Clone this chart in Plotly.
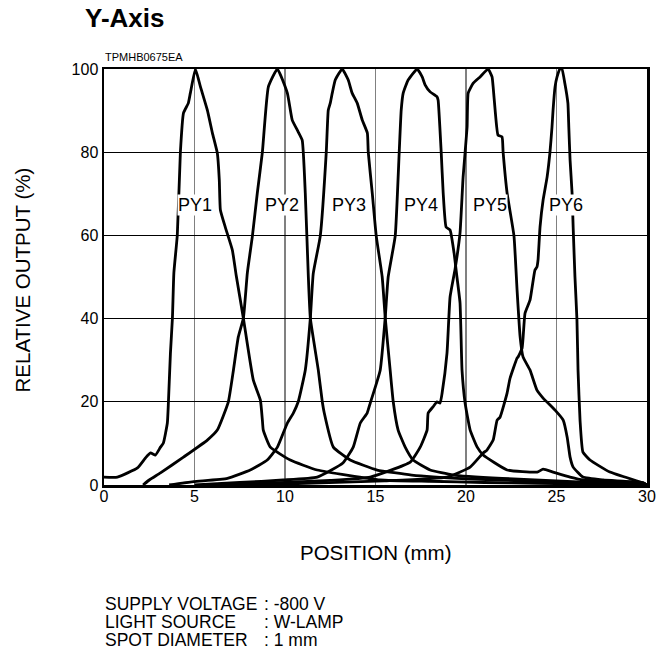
import plotly.graph_objects as go

# ---------------- data ----------------
py1_x = [0, 0.74, 1.85, 2.29, 2.57, 2.84, 3.12, 3.28, 3.5, 3.56, 3.67, 3.78, 3.86, 4.05, 4.22, 4.39, 4.66, 4.77, 5.05, 5.33,
         5.71, 5.99, 6.26, 6.37, 6.43, 6.7, 7.09, 7.3, 7.7, 8.25, 8.64, 8.75, 8.8, 9.19, 10.29, 11.78, 15.26, 18, 21, 24, 27, 30]
py1_y = [1.9, 1.9, 4.1, 6.5, 7.7, 7.2, 9.1, 10.1, 14.9, 20, 31.7, 40.1, 51, 60.1, 80, 89.4, 91.8, 94.2, 100, 95.7,
         90.1, 84.6, 79.8, 73.3, 66.1, 62, 56.5, 50.5, 40.1, 25.2, 20.4, 15.6, 13.2, 9.1, 6.0, 3.6, 1.2, 0.9, 0.6, 0.4, 0.2, 0]

py2_x = [2.16, 2.5, 3.12, 4.39, 5.71, 6.26, 6.87, 7.15, 7.42, 7.7, 7.92, 8.2, 8.47, 8.75, 9.08, 9.58, 10.13, 10.4, 10.68, 10.95,
         11.12, 11.29, 11.4, 11.84, 12.06, 12.17, 12.67, 13.6, 15.09, 17, 20, 23, 26, 30]
py2_y = [0, 1.2, 2.9, 6.7, 10.8, 13.2, 20, 27.6, 35.6, 40.1, 51, 59.9, 70.2, 80, 95.7, 100, 94.2, 87.7, 85.3, 82.9,
         70.2, 50, 40.1, 27.6, 20, 17.3, 9.1, 6.0, 3.6, 2.4, 1.5, 1.0, 0.5, 0]

py3_x = [3.6, 4.94, 6.82, 8.08, 9.02, 9.58, 10.13, 10.46, 10.73, 11.12, 11.4, 11.56, 11.95, 12.28, 12.39, 12.5, 12.61, 12.78, 13.16, 13.49,
         13.71, 13.99, 14.27, 14.55, 14.6, 14.82, 15.04, 15.37, 15.54, 15.81, 15.98, 16.25, 16.64, 17.08, 18.02, 19.29, 22, 25, 28, 30]
py3_y = [0, 0.8, 1.6, 3.6, 6.0, 9.1, 14.9, 17.3, 20, 27.6, 40.1, 50.8, 59.9, 80, 90.1, 91.8, 94.2, 97.4, 100, 97.4,
         94.2, 91.8, 87.7, 84.6, 80, 70.2, 59.9, 50, 40.1, 27.6, 20, 13.2, 9.1, 6.0, 3.6, 2.4, 1.6, 1.0, 0.4, 0]

py4_x = [5.0, 7.5, 9.9, 11.78, 13.2, 13.77, 14.16, 14.54, 14.71, 15.26, 15.54, 15.7, 16.09, 16.31, 16.42, 16.53, 16.81, 17.3, 17.58, 17.74,
         18.02, 18.4, 18.46, 18.63, 18.74, 18.9, 19.12, 19.34, 19.5, 19.67, 19.78, 19.95, 20.23, 20.62, 20.95, 22.27, 23.93, 24.26, 24.81, 25.75,
         26.46, 29.77, 30]
py4_y = [0, 0.6, 1.2, 1.9, 5.3, 9.1, 14.9, 17.3, 19.7, 27.6, 40.4, 50, 59.9, 80, 90.1, 94.2, 97.4, 100, 98.1, 96.2,
         94.5, 93.3, 92.5, 80, 70.2, 62, 61.3, 55.8, 50, 43.8, 27.6, 19.7, 13.2, 9.1, 7.2, 3.6, 3.1, 3.8, 3.1, 1.9,
         1.2, 0.5, 0]

py5_x = [6, 10, 12.5, 14.71, 16.92, 17.47, 17.85, 17.91, 18.18, 18.4, 18.57, 18.68, 18.95, 19.12, 19.4, 19.67, 19.84, 20.06, 20.12, 20.4,
         20.78, 21.22, 21.44, 21.5, 21.61, 21.77, 21.99, 22.05, 22.27, 22.65, 22.82, 22.99, 23.15, 23.54, 23.92, 24.26, 24.92, 25.37, 25.59, 25.75,
         25.92, 26.46, 27.57, 29.77, 30]
py5_y = [0, 0.6, 1.1, 1.9, 5.5, 9.1, 13.2, 17.3, 18.8, 20, 19.7, 22.1, 31.7, 45.2, 52, 60.6, 74, 86, 94.2, 96.6,
         98.1, 100, 98.1, 95.7, 90.1, 84.1, 83.7, 80, 70.2, 59.9, 47, 35.6, 30.8, 27.6, 22.8, 20.9, 18, 15.6, 11.5, 6.7,
         4.3, 1.9, 1.2, 0.5, 0]

py6_x = [8, 12, 15.5, 18.95, 20.23, 20.95, 21.16, 21.5, 21.72, 21.88, 22.27, 22.43, 22.82, 22.88, 23.1, 23.26, 23.54, 23.81, 23.92, 23.98,
         24.09, 24.26, 24.48, 24.64, 24.75, 24.81, 24.92, 25.03, 25.19, 25.3, 25.46, 25.63, 25.68, 25.75, 25.86, 25.92, 26.02, 26.13, 26.19, 26.3,
         26.46, 26.85, 27.95, 29.77, 30]
py6_y = [0, 0.5, 1.0, 1.9, 4.3, 7.7, 8.4, 10.8, 15.6, 16.3, 22.1, 25.6, 30.5, 30.8, 32.9, 41.3, 44.5, 51.7, 52.4, 54.1,
         62, 68.5, 74, 80, 86, 90.1, 95.7, 98.1, 100, 100, 96.6, 91.8, 86, 78.1, 70.2, 62, 50, 39.7, 27.6, 15.6,
         7.9, 6.0, 3.1, 0.5, 0]

series_names = ["PY1", "PY2", "PY3", "PY4", "PY5", "PY6"]
series_x = [py1_x, py2_x, py3_x, py4_x, py5_x, py6_x]
series_y = [py1_y, py2_y, py3_y, py4_y, py5_y, py6_y]
label_x = [5.0, 9.85, 13.55, 17.5, 21.3, 25.55]
label_y = [67.3, 67.3, 67.3, 67.3, 67.3, 67.3]

x_ticks = [0, 5, 10, 15, 20, 25, 30]
y_ticks = [0, 20, 40, 60, 80, 100]

notes_left = ["SUPPLY VOLTAGE", "LIGHT SOURCE", "SPOT DIAMETER"]
notes_right = [": -800 V", ": W-LAMP", ": 1 mm"]

FONT = "Liberation Sans, Arial, Helvetica, sans-serif"

# ---------------- figure ----------------
W, H = 670, 654
L, T = 104, 69
pw, ph = 543, 416
R = W - L - pw
B = H - T - ph


def px2x(px):
    return (px - L) / pw


def py2y(py):
    return (T + ph - py) / ph


fig = go.Figure()
for name, xs, ys in zip(series_names, series_x, series_y):
    fig.add_trace(go.Scatter(x=xs, y=ys, mode="lines", name=name,
                             line=dict(color="black", width=2.8, shape="spline", smoothing=0.4),
                             showlegend=False, hoverinfo="skip"))

annotations = []
for name, lx, ly in zip(series_names, label_x, label_y):
    annotations.append(dict(x=lx, y=ly, xref="x", yref="y", text=name, showarrow=False,
                            font=dict(family=FONT, size=18, color="black"),
                            bgcolor="white", borderpad=0))

annotations.append(dict(x=px2x(84), y=py2y(18), xref="paper", yref="paper", text="<b>Y-Axis</b>",
                        showarrow=False, xanchor="left", yanchor="middle", borderpad=0,
                        font=dict(family=FONT, size=26, color="black")))
annotations.append(dict(x=px2x(104), y=py2y(57.5), xref="paper", yref="paper", text="TPMHB0675EA",
                        showarrow=False, xanchor="left", yanchor="middle", borderpad=0,
                        font=dict(family=FONT, size=11, color="black")))
annotations.append(dict(x=px2x(375), y=py2y(552), xref="paper", yref="paper", text="POSITION (mm)",
                        showarrow=False, xanchor="center", yanchor="middle",
                        font=dict(family=FONT, size=20.5, color="black")))
annotations.append(dict(x=px2x(21.5), y=py2y(280), xref="paper", yref="paper", text="RELATIVE OUTPUT (%)",
                        showarrow=False, xanchor="center", yanchor="middle", textangle=-90,
                        font=dict(family=FONT, size=20.5, color="black")))
rows_py = [603.5, 621.5, 639.5]
for t1, t2, rp in zip(notes_left, notes_right, rows_py):
    annotations.append(dict(x=px2x(104), y=py2y(rp), xref="paper", yref="paper", text=t1,
                            showarrow=False, xanchor="left", yanchor="middle", borderpad=0,
                            font=dict(family=FONT, size=17.5, color="black")))
    annotations.append(dict(x=px2x(263), y=py2y(rp), xref="paper", yref="paper", text=t2,
                            showarrow=False, xanchor="left", yanchor="middle", borderpad=0,
                            font=dict(family=FONT, size=17.5, color="black")))

fig.update_layout(
    width=W, height=H,
    margin=dict(l=L, r=R, t=T, b=B, pad=0),
    paper_bgcolor="white", plot_bgcolor="white",
    font=dict(family=FONT, size=16, color="black"),
    annotations=annotations,
    xaxis=dict(range=[0, 30], tickvals=x_ticks, ticktext=[str(v) for v in x_ticks],
               showgrid=True, gridcolor="#808080", gridwidth=1.5,
               showline=True, linecolor="black", linewidth=2.5, mirror=True,
               ticks="", zeroline=False, tickfont=dict(size=16), fixedrange=True,
               ticklabelstandoff=-5),
    yaxis=dict(range=[0, 100], tickvals=y_ticks, ticktext=[str(v) for v in y_ticks],
               showgrid=True, gridcolor="black", gridwidth=1,
               showline=True, linecolor="black", linewidth=2.5, mirror=True,
               ticks="", zeroline=False, tickfont=dict(size=16), fixedrange=True),
)

# the page's default 8 px body margin would push the fixed-size figure out of the window
fig.write_html("out.html", config={"displayModeBar": False, "staticPlot": True},
               post_script="document.body.style.margin='0px';")
